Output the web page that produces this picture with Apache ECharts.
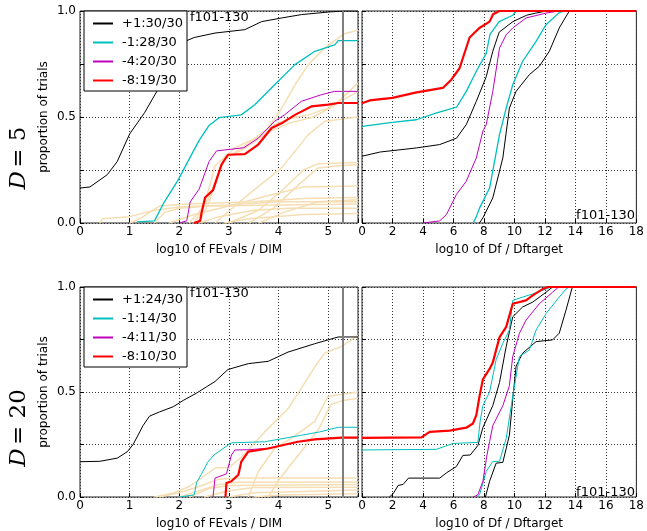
<!DOCTYPE html>
<html lang="en">
<head>
<meta charset="UTF-8">
<title>ECDF f101-130</title>
<script src="https://cdn.jsdelivr.net/npm/echarts@6/dist/echarts.min.js"></script>
<style>
  html, body { margin: 0; padding: 0; background: #fff; }
  #chart { width: 647px; height: 531px; }
</style>
</head>
<body>
<div id="chart"></div>
<script>
// ---- data: D = 5, runlength (log10 of FEvals / DIM) ----
var tlBlack = [[0,0.165],[0.2,0.17],[0.55,0.228],[0.75,0.29],[1.0,0.42],[1.3,0.52],[1.57,0.63],[1.75,0.7],[1.95,0.78],[2.1,0.855],[2.3,0.875],[2.72,0.896],[3.32,0.912],[3.66,0.95],[4.06,0.967],[4.46,0.983],[5.0,0.995],[5.3,1.0],[5.6,1.0]];
var tlCyan = [[1.15,0.005],[1.5,0.01],[1.7,0.1],[1.97,0.2],[2.15,0.28],[2.4,0.39],[2.6,0.46],[2.8,0.497],[3.25,0.51],[3.52,0.558],[3.92,0.652],[4.33,0.747],[4.73,0.81],[5.13,0.84],[5.2,0.86],[5.6,0.86]];
var tlMagenta = [[2.0,0],[2.15,0.01],[2.22,0.1],[2.4,0.16],[2.6,0.29],[2.75,0.34],[3.3,0.355],[3.59,0.40],[3.92,0.48],[4.12,0.51],[4.46,0.574],[4.86,0.605],[5.13,0.621],[5.6,0.621]];
var tlRed = [[2.3,0],[2.42,0.01],[2.45,0.05],[2.52,0.12],[2.68,0.155],[2.85,0.275],[2.98,0.322],[3.32,0.325],[3.59,0.37],[3.86,0.448],[4.06,0.47],[4.33,0.51],[4.66,0.55],[5.0,0.558],[5.2,0.566],[5.6,0.566]];
var tlWheat = [
  [[0.4,0],[0.45,0.02],[1.0,0.03],[1.5,0.06],[2.0,0.075],[3.0,0.085],[4.0,0.1],[5.6,0.1]],
  [[1.0,0],[1.2,0.02],[1.6,0.08],[2.2,0.09],[3.5,0.1],[4.5,0.115],[5.6,0.12]],
  [[1.5,0],[1.7,0.05],[2.0,0.07],[2.6,0.08],[4.0,0.085],[5.6,0.09]],
  [[1.8,0],[2.3,0.04],[3.0,0.08],[3.8,0.13],[4.5,0.17],[5.6,0.175]],
  [[2.4,0],[2.8,0.03],[3.5,0.06],[4.2,0.07],[5.6,0.07]],
  [[2.9,0],[3.4,0.02],[4.5,0.04],[5.6,0.045]],
  [[2.72,0],[3.39,0.134],[4.06,0.26],[4.6,0.417],[4.93,0.48],[5.6,0.5]],
  [[3.0,0],[3.6,0.06],[4.1,0.16],[4.5,0.25],[4.8,0.28],[5.6,0.285]],
  [[3.4,0],[3.9,0.07],[4.4,0.18],[4.8,0.26],[5.2,0.27],[5.6,0.275]],
  [[2.2,0],[2.5,0.08],[2.72,0.27],[3.12,0.354],[3.39,0.385],[3.72,0.417],[3.92,0.464],[4.26,0.495],[4.6,0.51],[5.0,0.542],[5.6,0.62]],
  [[2.3,0],[2.6,0.12],[2.9,0.3],[3.3,0.35],[3.8,0.43],[4.2,0.47],[4.7,0.5],[5.1,0.55],[5.6,0.66]],
  [[2.4,0],[2.6,0.1],[2.9,0.3],[3.3,0.36],[3.79,0.448],[4.06,0.54],[4.33,0.652],[4.6,0.747],[4.93,0.825],[5.3,0.89],[5.6,0.91]],
  [[3.6,0],[4.1,0.05],[4.8,0.1],[5.6,0.11]]
];

// ---- data: D = 5, log10 of Df / Dftarget ----
var trRed = [[0,0.565],[0.5,0.578],[2,0.59],[3.5,0.615],[5.3,0.637],[5.86,0.676],[6.4,0.73],[7.06,0.875],[7.7,0.92],[8.37,0.95],[8.6,0.985],[9.0,1.0],[18,1.0]];
var trCyanA = [[0,0.456],[2,0.475],[3.57,0.487],[4.9,0.519],[6.2,0.546],[6.84,0.621],[7.5,0.716],[8.15,0.8],[8.4,0.89],[9.0,0.95],[9.9,0.98],[10.1,1],[18,1]];
var trBlackA = [[0,0.315],[1.2,0.335],[3.57,0.354],[5.1,0.37],[6.2,0.40],[6.84,0.464],[7.5,0.574],[8.15,0.69],[8.58,0.81],[9.0,0.9],[9.9,0.95],[10.8,0.98],[11.4,0.99],[12.1,1],[18,1]];
var trMagenta = [[4,0],[5.1,0.01],[5.54,0.04],[6.19,0.134],[6.84,0.197],[7.5,0.307],[7.93,0.433],[8.15,0.464],[8.58,0.62],[9.02,0.825],[9.46,0.888],[9.89,0.92],[10.76,0.967],[12.07,0.99],[12.9,1],[18,1]];
var trCyanB = [[7.3,0],[7.5,0.03],[7.71,0.07],[8.37,0.165],[9.02,0.417],[9.46,0.542],[9.89,0.652],[10.54,0.763],[11.42,0.857],[12.07,0.935],[12.9,0.99],[13.2,1],[18,1]];
var trBlackB = [[7.7,0],[7.93,0.024],[8.58,0.118],[9.24,0.307],[9.67,0.542],[10.1,0.62],[10.98,0.70],[11.63,0.739],[12.29,0.81],[12.94,0.92],[13.6,1],[18,1]];

// ---- data: D = 20, runlength ----
var blBlack = [[0,0.168],[0.4,0.17],[0.75,0.185],[0.95,0.215],[1.07,0.25],[1.27,0.34],[1.4,0.385],[1.6,0.405],[1.88,0.43],[2.08,0.46],[2.35,0.495],[2.55,0.525],[2.72,0.55],[2.98,0.607],[3.39,0.635],[3.79,0.646],[4.19,0.69],[4.73,0.73],[5.2,0.762],[5.6,0.762]];
var blCyan = [[2.0,0],[2.3,0.01],[2.35,0.07],[2.44,0.106],[2.57,0.165],[2.7,0.2],[2.98,0.247],[3.05,0.258],[3.72,0.263],[4.46,0.294],[4.83,0.31],[5.2,0.332],[5.6,0.332]];
var blMagenta = [[2.68,0],[2.72,0.09],[2.95,0.11],[3.05,0.2],[3.12,0.224],[3.39,0.225],[3.79,0.232],[4.39,0.263],[4.73,0.274],[5.27,0.283],[5.6,0.283]];
var blRed = [[2.93,0],[2.95,0.067],[3.05,0.075],[3.19,0.106],[3.25,0.169],[3.39,0.216],[3.79,0.231],[4.39,0.263],[4.73,0.274],[5.27,0.283],[5.6,0.283]];
var blWheat = [
  [[1.5,0],[1.9,0.02],[2.2,0.05],[2.5,0.1],[2.72,0.138],[3.0,0.14],[3.3,0.2],[3.72,0.31],[4.19,0.42],[4.53,0.545],[4.73,0.62],[4.93,0.685],[5.27,0.717],[5.6,0.77]],
  [[3.39,0],[3.59,0.12],[3.92,0.23],[4.26,0.28],[4.73,0.36],[5.0,0.48],[5.6,0.5]],
  [[3.8,0],[4.0,0.08],[4.4,0.2],[4.8,0.32],[5.05,0.44],[5.3,0.46],[5.6,0.47]],
  [[1.6,0],[2.0,0.02],[2.4,0.05],[2.8,0.085],[3.2,0.09],[4.0,0.09],[5.6,0.09]],
  [[2.0,0],[2.4,0.03],[2.8,0.06],[3.2,0.07],[5.6,0.072]],
  [[2.2,0],[2.6,0.04],[3.0,0.055],[5.6,0.06]],
  [[2.5,0],[3.0,0.03],[3.5,0.045],[5.6,0.047]],
  [[3.0,0],[3.5,0.02],[5.6,0.033]],
  [[3.5,0],[4.0,0.01],[5.6,0.015]]
];

// ---- data: D = 20, log10 of Df / Dftarget ----
var brRed = [[0,0.282],[3.9,0.284],[4.44,0.31],[5.75,0.316],[6.84,0.33],[7.28,0.35],[7.5,0.39],[7.71,0.48],[7.93,0.56],[8.37,0.61],[8.58,0.64],[9.02,0.76],[9.46,0.81],[9.89,0.92],[10.76,0.936],[11.2,0.96],[11.85,0.99],[12.2,1],[18,1]];
var brCyanA = [[0,0.224],[4.88,0.227],[5.97,0.255],[7.6,0.26],[7.75,0.36],[7.93,0.435],[8.37,0.5],[8.8,0.654],[9.24,0.732],[9.67,0.795],[9.89,0.936],[10.54,0.952],[11.2,0.967],[12.07,0.99],[12.4,1],[18,1]];
var brBlackA = [[1.8,0],[2.05,0.016],[2.37,0.055],[2.7,0.06],[3.05,0.09],[5.1,0.09],[5.54,0.115],[6.19,0.145],[6.62,0.198],[7.1,0.2],[7.6,0.245],[7.93,0.33],[8.58,0.435],[9.02,0.545],[9.46,0.717],[9.89,0.858],[10.54,0.905],[11.2,0.928],[12.07,0.975],[12.5,1],[18,1]];
var brMagenta = [[7.3,0],[7.6,0.01],[7.93,0.075],[8.2,0.2],[8.37,0.263],[8.58,0.34],[9.24,0.435],[9.67,0.53],[9.89,0.67],[10.33,0.78],[10.76,0.842],[11.63,0.92],[12.5,0.975],[12.9,1],[18,1]];
var brCyanB = [[7.55,0],[7.71,0.01],[8.15,0.122],[8.58,0.169],[9.02,0.17],[9.46,0.278],[9.89,0.48],[10.33,0.67],[10.98,0.70],[11.42,0.795],[12.07,0.873],[12.94,0.952],[13.38,0.99],[13.6,1],[18,1]];
var brBlackB = [[8.1,0],[8.37,0.075],[8.8,0.161],[9.24,0.165],[9.67,0.294],[9.89,0.466],[10.11,0.623],[10.54,0.685],[11.42,0.74],[12.5,0.748],[12.94,0.78],[13.38,0.889],[13.8,1],[18,1]];

var topNames = ['+1:30/30', '-1:28/30', '-4:20/30', '-8:19/30'];
var botNames = ['+1:24/30', '-1:14/30', '-4:11/30', '-8:10/30'];
var maxEvalsLog = 5.3;
var xRunMax = 5.6, xDfMax = 18;

var C = { k: '#000000', c: '#00bfbf', m: '#bf00bf', r: '#ff0000', w: '#f5deb3' };
var W = { k: 1, c: 1.3, m: 1, r: 2.2 };
var FONT = 'DejaVu Sans';

function line(name, data, color, width, idx, z) {
  return {
    name: name, type: 'line', data: data, xAxisIndex: idx, yAxisIndex: idx,
    symbol: 'none', z: z || 3, silent: true,
    lineStyle: { color: color, width: width }, itemStyle: { color: color }
  };
}

function xAxis(idx, max, interval, name) {
  return {
    type: 'value', gridIndex: idx, min: 0, max: max, interval: interval,
    name: name, nameLocation: 'middle', nameGap: 21,
    nameTextStyle: { fontFamily: FONT, fontSize: 12, color: '#000' },
    axisLine: { show: false },
    axisTick: { inside: true, length: 4, lineStyle: { color: '#000' } },
    axisLabel: { margin: 3, fontFamily: FONT, fontSize: 12, color: '#000',
      formatter: function (v) { return (Math.abs(v - Math.round(v)) < 1e-9) ? String(Math.round(v)) : ''; } },
    splitLine: { show: true, lineStyle: { type: [1, 2], color: '#333', width: 1 } }
  };
}

function yAxis(idx, withLabels) {
  return {
    type: 'value', gridIndex: idx, min: 0, max: 1, interval: 0.25,
    name: withLabels ? 'proportion of trials' : '', nameLocation: 'middle', nameGap: 30,
    nameTextStyle: { fontFamily: FONT, fontSize: 12, color: '#000' },
    axisLine: { show: false },
    axisTick: { inside: true, length: 4, lineStyle: { color: '#000' } },
    axisLabel: { show: withLabels, margin: 4, fontFamily: FONT, fontSize: 12, color: '#000',
      formatter: function (v) { return (v === 0 || v === 0.5 || v === 1) ? v.toFixed(1) : ''; } },
    splitLine: { show: true, lineStyle: { type: [1, 2], color: '#333', width: 1 } }
  };
}

function legend(names, top) {
  return {
    data: names, orient: 'vertical', left: 84, top: top,
    itemWidth: 20, itemHeight: 12, itemGap: 6,
    padding: [6, 4, 4, 8],
    itemStyle: { opacity: 0 },
    backgroundColor: '#fff', borderColor: '#000', borderWidth: 1, borderRadius: 0,
    textStyle: { fontFamily: FONT, fontSize: 13, color: '#000', padding: [0, 0, 0, 4] },
    selectedMode: false, z: 10
  };
}

var series = [];
tlWheat.forEach(function (d, i) { series.push(line('tw' + i, d, C.w, 1.5, 0, 1)); });
series.push(line(topNames[0], tlBlack, C.k, W.k, 0));
series.push(line(topNames[1], tlCyan, C.c, W.c, 0));
series.push(line(topNames[2], tlMagenta, C.m, W.m, 0));
series.push(line(topNames[3], tlRed, C.r, W.r, 0, 4));
series[series.length - 1].markLine = {
  silent: true, symbol: 'none', label: { show: false },
  lineStyle: { color: '#7f7f7f', width: 2, type: 'solid' },
  data: [{ xAxis: maxEvalsLog }]
};

series.push(line('trK1', trBlackA, C.k, W.k, 1));
series.push(line('trK2', trBlackB, C.k, W.k, 1));
series.push(line('trC1', trCyanA, C.c, W.c, 1));
series.push(line('trC2', trCyanB, C.c, W.c, 1));
series.push(line('trM', trMagenta, C.m, W.m, 1));
series.push(line('trR', trRed, C.r, W.r, 1, 4));

blWheat.forEach(function (d, i) { series.push(line('bw' + i, d, C.w, 1.5, 2, 1)); });
series.push(line(botNames[0], blBlack, C.k, W.k, 2));
series.push(line(botNames[1], blCyan, C.c, 1, 2));
series.push(line(botNames[2], blMagenta, C.m, W.m, 2));
series.push(line(botNames[3], blRed, C.r, W.r, 2, 4));
series[series.length - 1].markLine = {
  silent: true, symbol: 'none', label: { show: false },
  lineStyle: { color: '#7f7f7f', width: 2, type: 'solid' },
  data: [{ xAxis: maxEvalsLog }]
};

series.push(line('brK1', brBlackA, C.k, W.k, 3));
series.push(line('brK2', brBlackB, C.k, W.k, 3));
series.push(line('brC1', brCyanA, C.c, 1, 3));
series.push(line('brC2', brCyanB, C.c, 1, 3));
series.push(line('brM', brMagenta, C.m, W.m, 3));
series.push(line('brR', brRed, C.r, W.r, 3, 4));

function dLabel(y, num) {
  return {
    type: 'text', x: 19, y: y, rotation: Math.PI / 2, z: 20,
    style: {
      text: '{i|D} {r|= ' + num + '}', align: 'center', verticalAlign: 'middle',
      rich: {
        i: { fontFamily: 'DejaVu Serif', fontStyle: 'italic', fontSize: 23, fill: '#000' },
        r: { fontFamily: 'DejaVu Serif', fontSize: 23, fill: '#000' }
      }
    }
  };
}

function fText(x, y, align) {
  return {
    type: 'text', x: x, y: y, z: 20,
    style: { text: 'f101-130', font: '13px "DejaVu Sans"', fill: '#000', align: align, verticalAlign: 'middle' }
  };
}

var frame = { show: true, borderColor: '#222', borderWidth: 1, backgroundColor: 'transparent' };

var option = {
  animation: false,
  backgroundColor: '#fff',
  grid: [
    Object.assign({ left: 80, top: 11, width: 278, height: 212 }, frame),
    Object.assign({ left: 362, top: 11, width: 275, height: 212 }, frame),
    Object.assign({ left: 80, top: 287, width: 278, height: 213 }, frame),
    Object.assign({ left: 362, top: 287, width: 275, height: 213 }, frame)
  ],
  xAxis: [
    xAxis(0, xRunMax, 1, 'log10 of FEvals / DIM'),
    xAxis(1, xDfMax, 2, 'log10 of Df / Dftarget'),
    xAxis(2, xRunMax, 1, 'log10 of FEvals / DIM'),
    xAxis(3, xDfMax, 2, 'log10 of Df / Dftarget')
  ],
  yAxis: [yAxis(0, true), yAxis(1, false), yAxis(2, true), yAxis(3, false)],
  legend: [legend(topNames, 11), legend(botNames, 287)],
  graphic: [
    dLabel(158, '5'), dLabel(428, '20'),
    fText(190, 18, 'left'), fText(190, 294, 'left'),
    fText(635, 216, 'right'), fText(635, 493, 'right')
  ],
  series: series
};

var chart = echarts.init(document.getElementById('chart'), null, { renderer: 'canvas' });
chart.setOption(option);
</script>
</body>
</html>
